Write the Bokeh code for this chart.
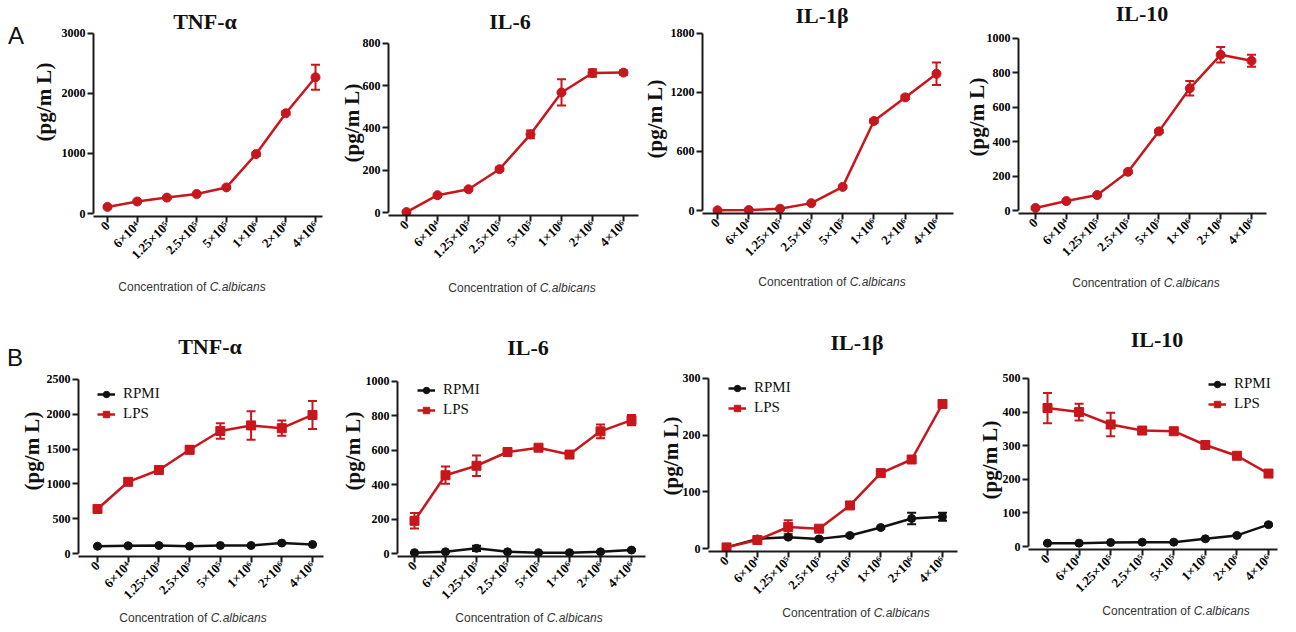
import math
from bokeh.plotting import figure
from bokeh.models import (Range1d, FixedTicker, Whisker, TeeHead, Div,
                          ColumnDataSource, Legend, LegendItem)
from bokeh.layouts import row, column
from bokeh.embed import file_html
from bokeh.resources import INLINE

# ---------------- data ----------------
categories = ["0", "6×10⁴", "1.25×10⁵", "2.5×10⁵", "5×10⁵", "1×10⁶", "2×10⁶", "4×10⁶"]

# Panel A (single series)
a_tnf = [110, 200, 265, 325, 435, 990, 1670, 2270]
a_tnf_err = [15, 15, 15, 15, 20, 30, 30, 210]
a_il6 = [2, 82, 110, 205, 370, 568, 660, 662]
a_il6_err = [5, 5, 5, 8, 18, 62, 18, 10]
a_il1b = [2, 5, 18, 75, 240, 910, 1150, 1390]
a_il1b_err = [3, 3, 5, 8, 12, 20, 20, 115]
a_il10 = [15, 55, 90, 225, 460, 710, 905, 870]
a_il10_err = [5, 5, 5, 8, 10, 42, 45, 35]

# Panel B (RPMI vs LPS)
b_tnf_rpmi = [105, 110, 115, 105, 115, 115, 150, 130]
b_tnf_rpmi_err = [5, 5, 5, 5, 5, 5, 8, 5]
b_tnf_lps = [640, 1030, 1200, 1490, 1760, 1840, 1800, 1990]
b_tnf_lps_err = [20, 20, 25, 55, 110, 205, 110, 200]

b_il6_rpmi = [5, 10, 30, 10, 5, 5, 10, 20]
b_il6_rpmi_err = [3, 3, 15, 3, 3, 3, 4, 5]
b_il6_lps = [190, 455, 510, 590, 615, 575, 710, 775]
b_il6_lps_err = [45, 50, 60, 10, 8, 18, 40, 30]

b_il1b_rpmi = [2, 17, 20, 17, 23, 37, 53, 56]
b_il1b_rpmi_err = [1, 2, 2, 2, 2, 2, 10, 7]
b_il1b_lps = [2, 15, 38, 35, 76, 133, 157, 255]
b_il1b_lps_err = [1, 2, 12, 3, 3, 3, 3, 3]

b_il10_rpmi = [10, 10, 12, 13, 13, 23, 33, 65]
b_il10_rpmi_err = [1, 1, 1, 1, 1, 2, 2, 3]
b_il10_lps = [412, 400, 363, 345, 343, 302, 270, 217]
b_il10_lps_err = [45, 25, 35, 5, 5, 8, 5, 5]

# ---------------- styling ----------------
RED = "#c8161d"
BLACK = "#111111"
AXIS = "#1a1a1a"
SERIF = "Liberation Serif"
SANS = "Liberation Sans"


def text_div(w, h, items):
    spans = []
    for (x, y, html, style, rot) in items:
        tr = "translate(-50%,-50%)" + (f" rotate({rot}deg)" if rot else "")
        spans.append(
            f'<span style="position:absolute;left:{x}px;top:{y}px;'
            f'transform:{tr};white-space:nowrap;line-height:1;{style}">{html}</span>')
    html = (f'<div style="position:relative;width:{w}px;height:{h}px;overflow:visible;">'
            + "".join(spans) + '</div>')
    return Div(text=html, width=w, height=h, margin=0,
               styles={"overflow": "visible", "z-index": "2"})


TITLE_STYLE = f"font-family:'{SERIF}';font-weight:bold;font-size:22px;color:#111;"
YLAB_STYLE = f"font-family:'{SERIF}';font-weight:bold;font-size:21px;color:#111;"
XLAB_STYLE = f"font-family:'{SANS}';font-size:12px;color:#333;"
LETTER_STYLE = f"font-family:'{SANS}';font-size:24px;color:#111;"


def make_panel(g, rtop, rbot, title, series, yticks, legend=None):
    fl, fr = g["fig"]
    ax, top, zero, c0, c7, xend = g["axis"]
    xend = min(xend, fr - 3)
    pad = 3
    ext = 10
    ymax = yticks[-1]
    s = (c7 - c0) / 7.0
    x0 = -(c0 - ax) / s
    x1 = 7 + (xend - c7) / s
    ppu = (zero - top) / ymax
    y0 = -pad / ppu
    y1 = ymax + ext / ppu
    fbot = zero + pad
    frtop = top - ext
    ftop = top - 12
    fb = fbot + 53
    w = fr - fl

    p = figure(width=w, height=fb - ftop,
               x_range=Range1d(x0, x1), y_range=Range1d(y0, y1),
               min_border_left=ax - fl, min_border_right=fr - xend,
               min_border_top=frtop - ftop, min_border_bottom=fb - fbot,
               output_backend="svg", toolbar_location=None)
    if p.title is not None:
        p.title.visible = False
    p.outline_line_color = None
    p.xgrid.visible = False
    p.ygrid.visible = False
    p.background_fill_color = None
    p.border_fill_color = None

    xa = p.xaxis[0]
    xa.ticker = FixedTicker(ticks=list(range(8)))
    xa.major_label_overrides = {i: c for i, c in enumerate(categories)}
    xa.major_label_orientation = math.pi / 4
    ya = p.yaxis[0]
    ya.ticker = FixedTicker(ticks=yticks)
    ya.bounds = (0, ymax)
    for a in (xa, ya):
        a.axis_line_width = 2
        a.axis_line_color = AXIS
        a.major_tick_line_width = 2
        a.major_tick_line_color = AXIS
        a.major_tick_out = 6
        a.major_tick_in = 0
        a.minor_tick_line_color = None
        a.major_label_text_font = SERIF
        a.major_label_text_font_style = "bold"
        a.major_label_text_color = "black"
    ya.major_label_text_font_size = "12px"
    xa.major_label_text_font_size = "13px"
    ya.major_label_standoff = 2
    xa.major_label_standoff = 1

    items = []
    for name, vals, errs, color, marker, msize in series:
        src = ColumnDataSource(dict(
            x=list(range(len(vals))), y=vals,
            upper=[v + e for v, e in zip(vals, errs)],
            lower=[v - e for v, e in zip(vals, errs)]))
        wsk = Whisker(base="x", upper="upper", lower="lower", source=src,
                      line_color=color, line_width=2,
                      upper_head=TeeHead(size=9, line_color=color, line_width=2),
                      lower_head=TeeHead(size=9, line_color=color, line_width=2))
        p.add_layout(wsk)
        lr = p.line("x", "y", source=src, line_color=color, line_width=2.5)
        sr = p.scatter("x", "y", source=src, marker=marker, size=msize,
                       fill_color=color, line_color=color)
        if name:
            items.append(LegendItem(label=name, renderers=[lr, sr]))

    if legend is not None and items:
        lx, ly = legend
        lheight = 16 * 2 + 3
        leg_top = ly - 8 + 4
        leg = Legend(items=items,
                     location=(lx - ax, fbot - (leg_top + lheight)),
                     label_text_font=SERIF, label_text_font_size="15px",
                     label_text_color="#111111",
                     glyph_width=18, glyph_height=16, label_height=16,
                     spacing=3, padding=0, margin=0, label_standoff=8,
                     border_line_color=None, background_fill_alpha=0)
        p.add_layout(leg, "center")

    # title strip (also carries the rotated y label, overflowing onto the plot)
    tx, ty = g["title"]
    ty = max(ty, rtop + 12)
    yx, yy = g["ylab"]
    tdiv = text_div(w, ftop - rtop, [
        (tx - fl, ty - rtop, title, TITLE_STYLE, 0),
        (yx - fl, yy - rtop, "(pg/m L)", YLAB_STYLE, -90),
    ])
    # x-label strip
    xx, xy = g["xlab"]
    xy = max(xy, fb + 8)
    xdiv = text_div(w, rbot - fb,
                    [(xx - fl, xy - fb, "Concentration of <i>C.albicans</i>", XLAB_STYLE, 0)])
    return column(tdiv, p, xdiv, spacing=0)


GA = [
    dict(fig=(25, 330), axis=(93, 33, 214, 107, 315, 322),
         title=(205, 22), ylab=(44, 102), xlab=(192, 287)),
    dict(fig=(330, 642), axis=(388, 43, 213, 406, 623, 638),
         title=(510, 22), ylab=(352, 123), xlab=(522, 288)),
    dict(fig=(642, 960), axis=(702, 33, 211, 717, 936, 953),
         title=(822, 16), ylab=(655, 119), xlab=(832, 282)),
    dict(fig=(960, 1280), axis=(1018, 38, 211, 1035, 1251, 1266),
         title=(1142, 14), ylab=(977, 117), xlab=(1146, 283)),
]
GB = [
    dict(fig=(23, 334), axis=(78, 379, 554, 97, 312, 323),
         title=(210, 347), ylab=(32, 451), xlab=(193, 613)),
    dict(fig=(334, 654), axis=(397, 381, 554, 414, 631, 645),
         title=(528, 348), ylab=(353, 451), xlab=(529, 615)),
    dict(fig=(654, 970), axis=(708, 378, 549, 726, 942, 957),
         title=(857, 343), ylab=(671, 456), xlab=(856, 612)),
    dict(fig=(970, 1280), axis=(1028, 378, 547, 1047, 1268, 1285),
         title=(1157, 340), ylab=(990, 460), xlab=(1176, 595)),
]

A_TOP, A_BOT = 0, 320
B_TOP, B_BOT = 320, 624

pa = [
    make_panel(GA[0], A_TOP, A_BOT, "TNF-α",
               [(None, a_tnf, a_tnf_err, RED, "circle", 9)], [0, 1000, 2000, 3000]),
    make_panel(GA[1], A_TOP, A_BOT, "IL-6",
               [(None, a_il6, a_il6_err, RED, "circle", 9)], [0, 200, 400, 600, 800]),
    make_panel(GA[2], A_TOP, A_BOT, "IL-1β",
               [(None, a_il1b, a_il1b_err, RED, "circle", 9)], [0, 600, 1200, 1800]),
    make_panel(GA[3], A_TOP, A_BOT, "IL-10",
               [(None, a_il10, a_il10_err, RED, "circle", 9)], [0, 200, 400, 600, 800, 1000]),
]
pb = [
    make_panel(GB[0], B_TOP, B_BOT, "TNF-α",
               [("RPMI", b_tnf_rpmi, b_tnf_rpmi_err, BLACK, "circle", 8),
                ("LPS", b_tnf_lps, b_tnf_lps_err, RED, "square", 9)],
               [0, 500, 1000, 1500, 2000, 2500], legend=(97, 392)),
    make_panel(GB[1], B_TOP, B_BOT, "IL-6",
               [("RPMI", b_il6_rpmi, b_il6_rpmi_err, BLACK, "circle", 8),
                ("LPS", b_il6_lps, b_il6_lps_err, RED, "square", 9)],
               [0, 200, 400, 600, 800, 1000], legend=(417, 388)),
    make_panel(GB[2], B_TOP, B_BOT, "IL-1β",
               [("RPMI", b_il1b_rpmi, b_il1b_rpmi_err, BLACK, "circle", 8),
                ("LPS", b_il1b_lps, b_il1b_lps_err, RED, "square", 9)],
               [0, 100, 200, 300], legend=(728, 386)),
    make_panel(GB[3], B_TOP, B_BOT, "IL-10",
               [("RPMI", b_il10_rpmi, b_il10_rpmi_err, BLACK, "circle", 8),
                ("LPS", b_il10_lps, b_il10_lps_err, RED, "square", 9)],
               [0, 100, 200, 300, 400, 500], legend=(1208, 382)),
]

letter_a = text_div(25, A_BOT - A_TOP, [(16, 36 - A_TOP, "A", LETTER_STYLE, 0)])
letter_b = text_div(23, B_BOT - B_TOP, [(15, 358 - B_TOP, "B", LETTER_STYLE, 0)])

layout = column(row(letter_a, *pa, spacing=0), row(letter_b, *pb, spacing=0), spacing=0)
open("out.html", "w").write(file_html(layout, INLINE))
